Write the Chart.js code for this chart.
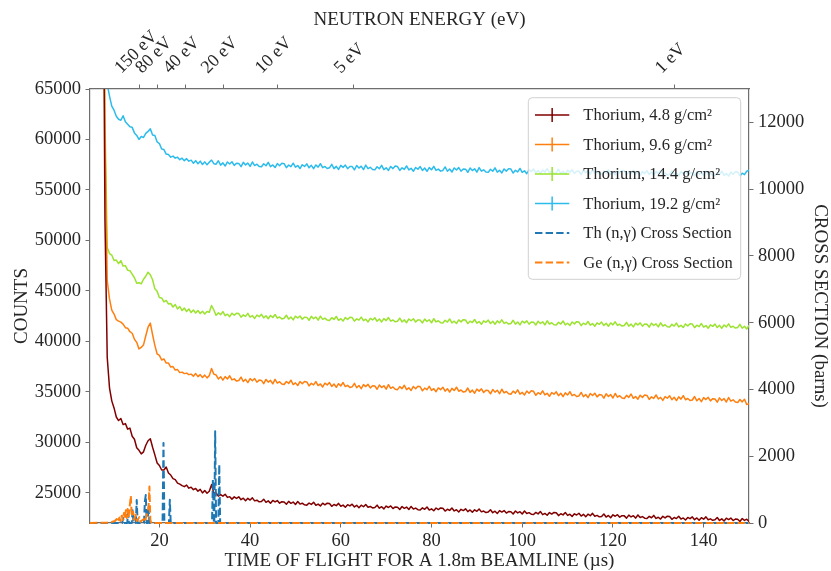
<!DOCTYPE html>
<html>
<head>
<meta charset="utf-8">
<script src="https://cdn.jsdelivr.net/npm/chart.js@4.4.1/dist/chart.umd.min.js"></script>
<style>
  html, body { margin: 0; padding: 0; background: #ffffff; }
  canvas { display: block; }
</style>
</head>
<body>
<canvas id="tof" width="831" height="571"></canvas>
<script>
// Time-of-flight bins (microseconds)
const TIME_US = [
  7.5, 8, 8.5, 9, 9.5, 10, 10.5, 11, 11.5, 12,
  12.5, 13, 13.5, 14, 14.5, 15, 15.5, 16, 16.5, 17,
  17.5, 18, 18.5, 19, 19.5, 20, 20.5, 21, 21.5, 22,
  22.5, 23, 23.5, 24, 24.5, 25, 25.5, 26, 26.5, 27,
  27.5, 28, 28.5, 29, 29.5, 30, 30.5, 31, 31.5, 32,
  32.5, 33, 33.5, 34, 34.5, 35, 35.5, 36, 36.5, 37,
  37.5, 38, 38.5, 39, 39.5, 40, 40.5, 41, 41.5, 42,
  42.5, 43, 43.5, 44, 44.5, 45, 45.5, 46, 46.5, 47,
  47.5, 48, 48.5, 49, 49.5, 50, 50.5, 51, 51.5, 52,
  52.5, 53, 53.5, 54, 54.5, 55, 55.5, 56, 56.5, 57,
  57.5, 58, 58.5, 59, 59.5, 60, 60.5, 61, 61.5, 62,
  62.5, 63, 63.5, 64, 64.5, 65, 65.5, 66, 66.5, 67,
  67.5, 68, 68.5, 69, 69.5, 70, 70.5, 71, 71.5, 72,
  72.5, 73, 73.5, 74, 74.5, 75, 75.5, 76, 76.5, 77,
  77.5, 78, 78.5, 79, 79.5, 80, 80.5, 81, 81.5, 82,
  82.5, 83, 83.5, 84, 84.5, 85, 85.5, 86, 86.5, 87,
  87.5, 88, 88.5, 89, 89.5, 90, 90.5, 91, 91.5, 92,
  92.5, 93, 93.5, 94, 94.5, 95, 95.5, 96, 96.5, 97,
  97.5, 98, 98.5, 99, 99.5, 100, 100.5, 101, 101.5, 102,
  102.5, 103, 103.5, 104, 104.5, 105, 105.5, 106, 106.5, 107,
  107.5, 108, 108.5, 109, 109.5, 110, 110.5, 111, 111.5, 112,
  112.5, 113, 113.5, 114, 114.5, 115, 115.5, 116, 116.5, 117,
  117.5, 118, 118.5, 119, 119.5, 120, 120.5, 121, 121.5, 122,
  122.5, 123, 123.5, 124, 124.5, 125, 125.5, 126, 126.5, 127,
  127.5, 128, 128.5, 129, 129.5, 130, 130.5, 131, 131.5, 132,
  132.5, 133, 133.5, 134, 134.5, 135, 135.5, 136, 136.5, 137,
  137.5, 138, 138.5, 139, 139.5, 140, 140.5, 141, 141.5, 142,
  142.5, 143, 143.5, 144, 144.5, 145, 145.5, 146, 146.5, 147,
  147.5, 148, 148.5, 149, 149.5, 150
];

// Counts per bin, thorium 4.8 g/cm2
const TH_4_8 = [
  90000, 52000, 38400, 35400, 34100, 33400, 32500, 32150, 32350, 31750,
  31850, 31300, 31400, 30600, 30300, 29450, 29200, 28850, 29050, 29700,
  30150, 30350, 29500, 28750, 27950, 27700, 27250, 27250, 27550, 26950,
  26750, 26400, 26300, 25950, 25850, 25700, 25600, 25750, 25450, 25550,
  25300, 25420, 25150, 25330, 24980, 25220, 24950, 25150, 25800, 24950,
  24976, 24660, 24805, 24657, 24852, 24535, 24611, 24365, 24587, 24432,
  24594, 24305, 24456, 24209, 24445, 24274, 24489, 24193, 24260, 24097,
  24133, 24360, 24048, 24192, 23964, 24233, 24082, 24226, 23963, 24106,
  24079, 23850, 24139, 23951, 24072, 23829, 24132, 23874, 23960, 23801,
  23770, 23977, 23834, 24062, 23758, 23874, 23689, 23959, 23802, 23967,
  23936, 23653, 23832, 23717, 23945, 23662, 23771, 23558, 23814, 23692,
  23864, 23588, 23753, 23519, 23768, 23611, 23839, 23556, 23637, 23487,
  23533, 23769, 23466, 23618, 23399, 23678, 23536, 23688, 23434, 23586,
  23569, 23343, 23635, 23451, 23575, 23336, 23642, 23388, 23477, 23321,
  23290, 23498, 23356, 23585, 23282, 23400, 23216, 23487, 23331, 23497,
  23466, 23184, 23364, 23250, 23479, 23198, 23308, 23096, 23353, 23232,
  23404, 23129, 23295, 23062, 23312, 23157, 23386, 23104, 23186, 23037,
  23083, 23319, 23016, 23168, 22949, 23228, 23086, 23238, 22984, 23136,
  23119, 22893, 23185, 23001, 23125, 22886, 23192, 22938, 23027, 22871,
  22840, 23048, 22906, 23135, 22832, 22950, 22766, 23037, 22881, 23047,
  23016, 22735, 22916, 22804, 23034, 22753, 22864, 22654, 22912, 22792,
  22964, 22690, 22857, 22626, 22877, 22722, 22952, 22672, 22755, 22607,
  22653, 22891, 22591, 22745, 22528, 22809, 22669, 22823, 22572, 22726,
  22709, 22485, 22780, 22598, 22724, 22487, 22795, 22543, 22635, 22481,
  22450, 22660, 22521, 22752, 22451, 22571, 22389, 22662, 22509, 22677,
  22646, 22366, 22549, 22437, 22668, 22389, 22501, 22291, 22551, 22432,
  22604, 22332, 22502, 22272, 22526, 22373, 22606, 22327, 22413, 22267,
  22313, 22552, 22253, 22408, 22193, 22474, 22336, 22491, 22241, 22396,
  22379, 22152, 22443, 22258, 22381, 22140
];

// Counts per bin, thorium 9.6 g/cm2
const TH_9_6 = [
  90000, 60000, 46000, 44200, 43100, 42700, 42150, 42000, 41900, 41700,
  41350, 41300, 40950, 40800, 40200, 39900, 39250, 39400, 39650, 40550,
  41400, 41800, 40650, 39600, 38750, 38600, 38150, 38250, 37850, 37850,
  37450, 37500, 37150, 37200, 36900, 36950, 36800, 36850, 36700, 36750,
  36550, 36800, 36500, 36700, 36420, 36650, 36380, 36600, 37300, 36750,
  36670, 36268, 36496, 36153, 36501, 36269, 36587, 36174, 36282, 36060,
  36120, 36453, 36017, 36230, 35913, 36307, 36100, 36313, 35947, 36160,
  36130, 35807, 36223, 35960, 36137, 35793, 36230, 35867, 35993, 35770,
  35720, 36019, 35818, 36147, 35716, 35884, 35623, 36012, 35791, 36030,
  35980, 35581, 35842, 35683, 36014, 35616, 35777, 35478, 35849, 35680,
  35920, 35531, 35772, 35443, 35804, 35586, 35917, 35518, 35639, 35430,
  35490, 35831, 35402, 35623, 35314, 35716, 35517, 35738, 35379, 35600,
  35570, 35252, 35674, 35417, 35599, 35261, 35703, 35346, 35478, 35260,
  35210, 35512, 35314, 35647, 35219, 35391, 35133, 35526, 35308, 35550,
  35500, 35102, 35364, 35207, 35539, 35141, 35303, 35006, 35378, 35210,
  35450, 35062, 35304, 34977, 35339, 35121, 35453, 35056, 35178, 34970,
  35030, 35372, 34944, 35167, 34859, 35261, 35063, 35286, 34928, 35150,
  35120, 34802, 35224, 34967, 35149, 34811, 35253, 34896, 35028, 34810,
  34760, 35062, 34864, 35197, 34769, 34941, 34683, 35076, 34858, 35100,
  35050, 34652, 34914, 34757, 35089, 34691, 34853, 34556, 34928, 34760,
  35000, 34613, 34857, 34530, 34893, 34677, 35010, 34613, 34737, 34530,
  34590, 34933, 34507, 34730, 34423, 34827, 34630, 34853, 34497, 34720,
  34690, 34373, 34797, 34540, 34723, 34387, 34830, 34473, 34607, 34390,
  34340, 34643, 34447, 34780, 34353, 34527, 34270, 34663, 34447, 34690,
  34640, 34243, 34507, 34350, 34683, 34287, 34450, 34153, 34527, 34360,
  34600, 34213, 34457, 34130, 34493, 34277, 34610, 34213, 34337, 34130,
  34190, 34533, 34107, 34330, 34023, 34427, 34230, 34453, 34097, 34320,
  34290, 33973, 34397, 34140, 34323, 33987, 34430, 34073, 34207, 33990,
  33940, 34230, 34000, 34260, 33740, 33820
];

// Counts per bin, thorium 14.4 g/cm2
const TH_14_4 = [
  90000, 62000, 49300, 48700, 48550, 48000, 48050, 47700, 48000, 47450,
  47500, 47050, 47000, 46650, 46300, 45750, 45800, 45700, 46150, 46450,
  46850, 46600, 46100, 45200, 44950, 44350, 44300, 43900, 44050, 43700,
  43750, 43400, 43650, 43200, 43450, 43050, 43300, 42950, 43200, 42850,
  43100, 42800, 43050, 42750, 42980, 42700, 42950, 42880, 43550, 43100,
  42570, 42832, 42645, 42934, 42539, 42685, 42443, 42786, 42581, 42789,
  42752, 42389, 42620, 42472, 42766, 42403, 42544, 42270, 42600, 42444,
  42668, 42317, 42533, 42236, 42560, 42363, 42660, 42300, 42408, 42219,
  42281, 42589, 42205, 42405, 42128, 42491, 42313, 42513, 42192, 42392,
  42373, 42088, 42470, 42239, 42405, 42102, 42502, 42181, 42302, 42107,
  42070, 42343, 42167, 42467, 42084, 42240, 42010, 42364, 42170, 42389,
  42352, 41997, 42235, 42096, 42397, 42042, 42190, 41925, 42262, 42114,
  42338, 41992, 42212, 41920, 42248, 42055, 42356, 42001, 42113, 41929,
  41991, 42302, 41919, 42122, 41847, 42212, 42036, 42239, 41919, 42122,
  42103, 41820, 42202, 41973, 42139, 41838, 42238, 41919, 42040, 41847,
  41810, 42086, 41911, 42214, 41833, 41991, 41763, 42120, 41927, 42149,
  42112, 41758, 41997, 41859, 42162, 41807, 41957, 41693, 42031, 41884,
  42108, 41763, 41984, 41693, 42023, 41830, 42133, 41779, 41892, 41709,
  41771, 42083, 41701, 41905, 41632, 41997, 41823, 42027, 41708, 41912,
  41893, 41611, 41994, 41766, 41934, 41633, 42035, 41717, 41839, 41647,
  41610, 41886, 41711, 42014, 41633, 41791, 41563, 41920, 41727, 41949,
  41912, 41558, 41797, 41659, 41962, 41607, 41757, 41493, 41831, 41684,
  41908, 41563, 41784, 41493, 41823, 41630, 41933, 41579, 41692, 41509,
  41571, 41883, 41501, 41705, 41432, 41797, 41623, 41827, 41508, 41712,
  41693, 41411, 41794, 41566, 41734, 41433, 41835, 41517, 41639, 41447,
  41410, 41686, 41511, 41814, 41433, 41591, 41363, 41720, 41527, 41749,
  41712, 41358, 41597, 41459, 41762, 41407, 41557, 41293, 41631, 41484,
  41708, 41363, 41584, 41293, 41623, 41430, 41733, 41379, 41492, 41309,
  41371, 41680, 41296, 41497, 41221, 41584
];

// Counts per bin, thorium 19.2 g/cm2
const TH_19_2 = [
  90000, 75000, 65500, 64300, 63300, 62900, 62300, 62000, 61900, 62350,
  61750, 61500, 61250, 61200, 60650, 60400, 60000, 60300, 60200, 60600,
  60800, 61050, 60450, 60400, 59750, 59600, 59050, 59000, 58550, 58500,
  58250, 58350, 58150, 58250, 58000, 58150, 57900, 58100, 57850, 57950,
  57650, 57900, 57600, 57850, 57520, 57780, 57500, 57750, 57950, 57600,
  57550, 57890, 57460, 57680, 57370, 57770, 57570, 57790, 57430, 57650,
  57630, 57313, 57737, 57480, 57663, 57327, 57770, 57413, 57547, 57330,
  57290, 57593, 57397, 57730, 57303, 57477, 57220, 57613, 57397, 57640,
  57600, 57204, 57469, 57313, 57648, 57252, 57417, 57121, 57496, 57330,
  57580, 57194, 57439, 57113, 57478, 57262, 57597, 57201, 57326, 57120,
  57190, 57534, 57109, 57333, 57028, 57432, 57237, 57461, 57106, 57330,
  57310, 56996, 57421, 57167, 57352, 57018, 57463, 57109, 57244, 57030,
  56990, 57296, 57101, 57437, 57012, 57188, 56933, 57329, 57114, 57360,
  57320, 56926, 57191, 57037, 57372, 56978, 57143, 56849, 57224, 57060,
  57310, 56926, 57171, 56847, 57212, 56998, 57333, 56939, 57064, 56860,
  56930, 57276, 56851, 57077, 56772, 57178, 56983, 57209, 56854, 57080,
  57060, 56746, 57171, 56917, 57102, 56768, 57213, 56859, 56994, 56780,
  56740, 57046, 56851, 57187, 56762, 56938, 56683, 57079, 56864, 57110,
  57070, 56677, 56943, 56790, 57127, 56733, 56900, 56607, 56983, 56820,
  57070, 56687, 56933, 56610, 56977, 56763, 57100, 56707, 56833, 56630,
  56700, 57047, 56623, 56850, 56547, 56953, 56760, 56987, 56633, 56860,
  56840, 56528, 56956, 56703, 56891, 56559, 57007, 56654, 56792, 56580,
  56540, 56848, 56656, 56993, 56571, 56749, 56497, 56894, 56682, 56930,
  56890, 56498, 56766, 56613, 56951, 56559, 56727, 56434, 56812, 56650,
  56900, 56518, 56766, 56443, 56811, 56599, 56937, 56544, 56672, 56470,
  56540, 56889, 56468, 56697, 56396, 56804, 56613, 56842, 56491, 56720,
  56700, 56389, 56818, 56567, 56756, 56424, 56873, 56522, 56661, 56450,
  56410, 56719, 56528, 56867, 56446, 56624, 56373, 56772, 56561, 56810,
  56780, 56390, 56660, 56510, 56850, 56950
];

// Th-232 (n,gamma) cross section vs time of flight
const TH_XS_TIME  = [4.7, 11.8, 12.0, 12.2, 12.9, 13.1, 13.3, 13.9, 14.1, 14.3, 14.8, 15.0, 15.2, 16.6, 16.8, 17.0, 17.2, 17.4, 17.6, 17.8, 20.7, 20.9, 21.1, 22.1, 22.3, 22.5, 31.6, 31.8, 32.0, 32.1, 32.3, 32.5, 33.0, 33.2, 33.4, 150];
const TH_XS_BARNS = [0,   0,    150,  0,    0,    300,  0,    0,    380,  0,    0,    690,  0,    0,    650,  840,  0,    0,    500,  0,    0,    2400, 0,    0,    700,  0,    0,    1300, 0,    0,    2750, 0,    0,    1750, 0,    0];

// Ge (n,gamma) cross section vs time of flight
const GE_XS_TIME  = [4.7, 8.5, 9.5, 10.2, 10.6, 10.8, 11.2, 11.4, 11.7, 11.9, 12.2, 12.4, 12.6, 12.8, 13.0, 13.2, 13.5, 13.7, 13.9, 14.2, 14.4, 14.8, 15.0, 15.6, 15.8, 16.6, 16.8, 17.6, 17.8, 18.0, 18.2, 150];
const GE_XS_BARNS = [0,   10,  30,  60,   120,  40,   160,  60,   220,  90,   300,  120,  380,  150,  420,  180,  560,  810,  200,  340,  100,  250,  60,   180,  40,   120,  30,   450,  1090, 100,  0,    0];

// Axis ticks
const TOF_TICKS = [20, 40, 60, 80, 100, 120, 140];
const COUNT_TICKS = [25000, 30000, 35000, 40000, 45000, 50000, 55000, 60000, 65000];
const XS_TICKS = [0, 2000, 4000, 6000, 8000, 10000, 12000];
const ENERGY_LABELS = ['150 eV', '80 eV', '40 eV', '20 eV', '10 eV', '5 eV', '1 eV'];
const ENERGY_TOF = [15.7, 19.6, 25.7, 34.1, 46.0, 62.7, 133.5];

const SERIF = "'Liberation Serif', 'DejaVu Serif', serif";
const TEXT = '#262626';
const AXIS = '#6e6e6e';

function points(xs, ys) { return xs.map((x, i) => ({ x: x, y: ys[i] })); }

function countSet(label, values, color) {
  return { label, data: points(TIME_US, values), borderColor: color, backgroundColor: color,
           borderWidth: 1.5, pointRadius: 0, yAxisID: 'y', order: 2, clip: 0, legendKind: 'err' };
}
function xsSet(label, xs, ys, color, order) {
  return { label, data: points(xs, ys), borderColor: color, backgroundColor: color,
           borderWidth: 2, borderDash: [7.4, 3.2], pointRadius: 0, yAxisID: 'y2', order, clip: 3, legendKind: 'dash' };
}

// Rotated neutron-energy labels above the top axis
const energyLabels = {
  id: 'energyLabels',
  afterDraw(chart) {
    const s = chart.scales.x2, ctx = chart.ctx;
    ctx.save();
    ctx.font = '18px ' + SERIF;
    ctx.fillStyle = TEXT;
    ctx.textAlign = 'center';
    ctx.textBaseline = 'middle';
    ENERGY_TOF.forEach((t, i) => {
      const w = ctx.measureText(ENERGY_LABELS[i]).width;
      const half = (w + 12) * Math.SQRT1_2 / 2;
      const cx = s.getPixelForValue(t) - 3.5;
      const cy = s.bottom - 14 - half;
      ctx.save();
      ctx.translate(cx, cy);
      ctx.rotate(-Math.PI / 4);
      ctx.fillText(ENERGY_LABELS[i], 0, 0);
      ctx.restore();
    });
    ctx.restore();
  }
};

// Framed legend in the upper-right corner of the plot
const cornerLegend = {
  id: 'cornerLegend',
  afterDraw(chart) {
    const { ctx, chartArea } = chart;
    const w = 212.4, h = 181.6;
    const x0 = chartArea.right - 8.3 - w, y0 = chartArea.top + 8.7;
    ctx.save();
    ctx.beginPath();
    ctx.roundRect(x0, y0, w, h, 4);
    ctx.fillStyle = 'rgba(255,255,255,0.8)';
    ctx.fill();
    ctx.strokeStyle = '#d0d0d0';
    ctx.lineWidth = 1;
    ctx.stroke();
    ctx.font = '16.5px ' + SERIF;
    ctx.textBaseline = 'middle';
    ctx.textAlign = 'left';
    chart.data.datasets.forEach((ds, i) => {
      const y = y0 + 17.3 + i * 29.5;
      const hx0 = x0 + 6.7, hx1 = x0 + 41;
      ctx.strokeStyle = ds.borderColor;
      if (ds.legendKind === 'dash') {
        ctx.lineWidth = 2;
        ctx.setLineDash([7.4, 3.2]);
        ctx.beginPath(); ctx.moveTo(hx0, y); ctx.lineTo(hx1, y); ctx.stroke();
        ctx.setLineDash([]);
      } else {
        ctx.lineWidth = 1.5;
        const mx = (hx0 + hx1) / 2;
        ctx.beginPath(); ctx.moveTo(hx0, y); ctx.lineTo(hx1, y);
        ctx.moveTo(mx, y - 7); ctx.lineTo(mx, y + 7); ctx.stroke();
      }
      ctx.fillStyle = TEXT;
      ctx.fillText(ds.label, x0 + 55, y + 1);
    });
    ctx.restore();
  }
};

function axisTitle(text, pad) {
  return { display: true, text, color: TEXT, font: { family: SERIF, size: 19, lineHeight: 1 }, padding: pad };
}
const tickFont = { family: SERIF, size: 18.5 };
const gridOpts = { drawOnChartArea: false, drawTicks: true, tickLength: 4.5, color: AXIS, tickWidth: 1 };
const borderOpts = { display: true, color: AXIS, width: 1.2 };

new Chart(document.getElementById('tof'), {
  type: 'line',
  data: {
    datasets: [
      countSet('Thorium, 4.8 g/cm²', TH_4_8, '#800000'),
      countSet('Thorium, 9.6 g/cm²', TH_9_6, '#ff7f0e'),
      countSet('Thorium, 14.4 g/cm²', TH_14_4, '#9be32f'),
      countSet('Thorium, 19.2 g/cm²', TH_19_2, '#2cbcec'),
      xsSet('Th (n,γ) Cross Section', TH_XS_TIME, TH_XS_BARNS, '#1f77b4', 1),
      xsSet('Ge (n,γ) Cross Section', GE_XS_TIME, GE_XS_BARNS, '#ff7f0e', 0)
    ]
  },
  options: {
    responsive: false,
    devicePixelRatio: 1,
    animation: false,
    events: [],
    layout: { padding: 0 },
    elements: { line: { tension: 0, borderJoinStyle: 'round' } },
    plugins: { legend: { display: false }, tooltip: { enabled: false } },
    scales: {
      x: {
        type: 'linear', position: 'bottom', min: 4.7, max: 150,
        afterBuildTicks: s => { s.ticks = TOF_TICKS.map(v => ({ value: v })); },
        afterFit: s => { s.height = 48; },
        ticks: { font: tickFont, color: TEXT, padding: 3, maxRotation: 0, autoSkip: false },
        grid: gridOpts, border: borderOpts,
        title: axisTitle('TIME OF FLIGHT FOR A 1.8m BEAMLINE (µs)', { top: 0, bottom: 0 })
      },
      x2: {
        type: 'linear', position: 'top', min: 4.7, max: 150,
        afterBuildTicks: s => { s.ticks = ENERGY_TOF.map(v => ({ value: v })); },
        afterFit: s => { s.height = 89; },
        ticks: { display: false },
        grid: gridOpts, border: borderOpts,
        title: axisTitle('NEUTRON ENERGY (eV)', { top: 10.5, bottom: 0 })
      },
      y: {
        type: 'linear', position: 'left', min: 22000, max: 65000,
        afterBuildTicks: s => { s.ticks = COUNT_TICKS.map(v => ({ value: v })); },
        afterFit: s => { s.width = 90; },
        ticks: { font: tickFont, color: TEXT, padding: 4.5, callback: v => String(v) },
        grid: gridOpts, border: borderOpts,
        title: axisTitle('COUNTS', { top: 12.5, bottom: 0 })
      },
      y2: {
        type: 'linear', position: 'right', min: 0, max: 13000,
        afterBuildTicks: s => { s.ticks = XS_TICKS.map(v => ({ value: v })); },
        afterFit: s => { s.width = 82; },
        ticks: { font: tickFont, color: TEXT, padding: 4.5, callback: v => String(v) },
        grid: gridOpts, border: borderOpts,
        title: axisTitle('CROSS SECTION (barns)', { top: 1.5, bottom: 0 })
      }
    }
  },
  plugins: [energyLabels, cornerLegend]
});
</script>
</body>
</html>
